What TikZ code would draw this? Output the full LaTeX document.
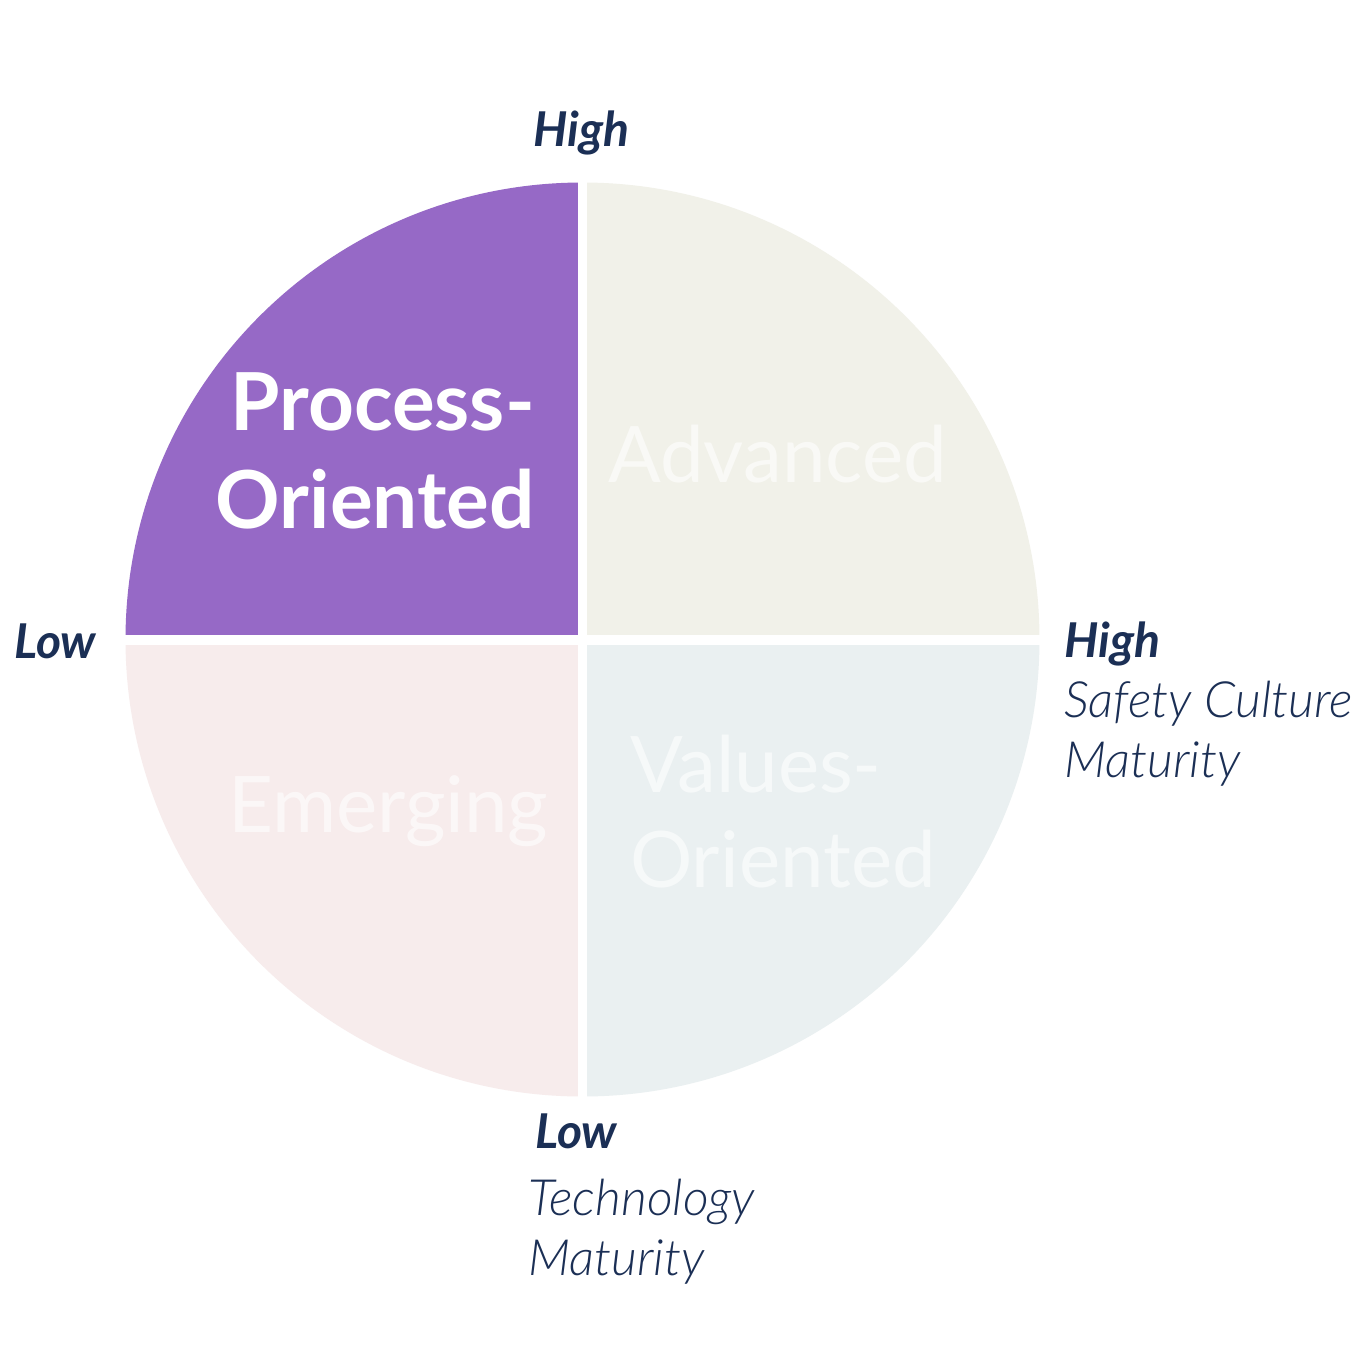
\documentclass[tikz,border=0pt]{standalone}
\usepackage{fontspec}
\setmainfont{Lato}
\newfontfamily\latolight{Lato Light}
\definecolor{qpurple}{HTML}{9669C6}
\definecolor{qcream}{HTML}{F1F1E9}
\definecolor{qpink}{HTML}{F7ECEC}
\definecolor{qblue}{HTML}{EAF0F1}
\definecolor{navy}{HTML}{1B2F55}
\tikzset{
  axislevel/.style={inner sep=0pt, text=navy, font=\fontsize{48}{58}\selectfont\bfseries\itshape},
  axisname/.style={inner sep=0pt, text=navy, align=left, font=\fontsize{50}{60}\latolight\itshape},
  quadbold/.style={inner sep=0pt, text=white, font=\fontsize{80}{98}\selectfont\bfseries},
  quadpale/.style={inner sep=0pt, text=white, text opacity=0.6, font=\fontsize{78}{95}\selectfont}
}
\begin{document}
\begin{tikzpicture}[x=1pt,y=-1pt]
\useasboundingbox (0,0) rectangle (1366,1366);
\fill[white] (0,0) rectangle (1366,1366);
\coordinate (c) at (582.5,639.5);
\fill[qpurple] (c) -- ++(180:457) arc[start angle=180,end angle=270,radius=457] -- cycle;
\fill[qcream] (c) -- ++(270:457) arc[start angle=270,end angle=360,radius=457] -- cycle;
\fill[qblue] (c) -- ++(0:457) arc[start angle=0,end angle=90,radius=457] -- cycle;
\fill[qpink] (c) -- ++(90:457) arc[start angle=90,end angle=180,radius=457] -- cycle;
\draw[white, line width=9pt] (582.5,170) -- (582.5,1110);
\draw[white, line width=10pt] (110,639.5) -- (1055,639.5);
% quadrant labels
\node[quadbold, align=right, anchor=base east] (po) at (535,528) {Process-\\Oriented};
\node[quadpale, anchor=base west] (adv) at (608,482) {Advanced};
\node[quadpale, anchor=base west] (emg) at (228,832) {Emerging};
\node[quadpale, align=left, anchor=base west] (vo) at (630,887) {Values-\\Oriented};
% axis labels
\node[axislevel, anchor=base west] (hightop) at (533,146) {High};
\node[axislevel, anchor=base west] (lowleft) at (14,658) {Low};
\node[axislevel, anchor=base west] (highright) at (1064,657) {High};
\node[axisname, anchor=base west] (safety) at (1064,777) {Safety Culture\\Maturity};
\node[axislevel, anchor=base west] (lowbottom) at (535,1148) {Low};
\node[axisname, anchor=base west] (tech) at (528,1275) {Technology\\Maturity};
\end{tikzpicture}
\end{document}
